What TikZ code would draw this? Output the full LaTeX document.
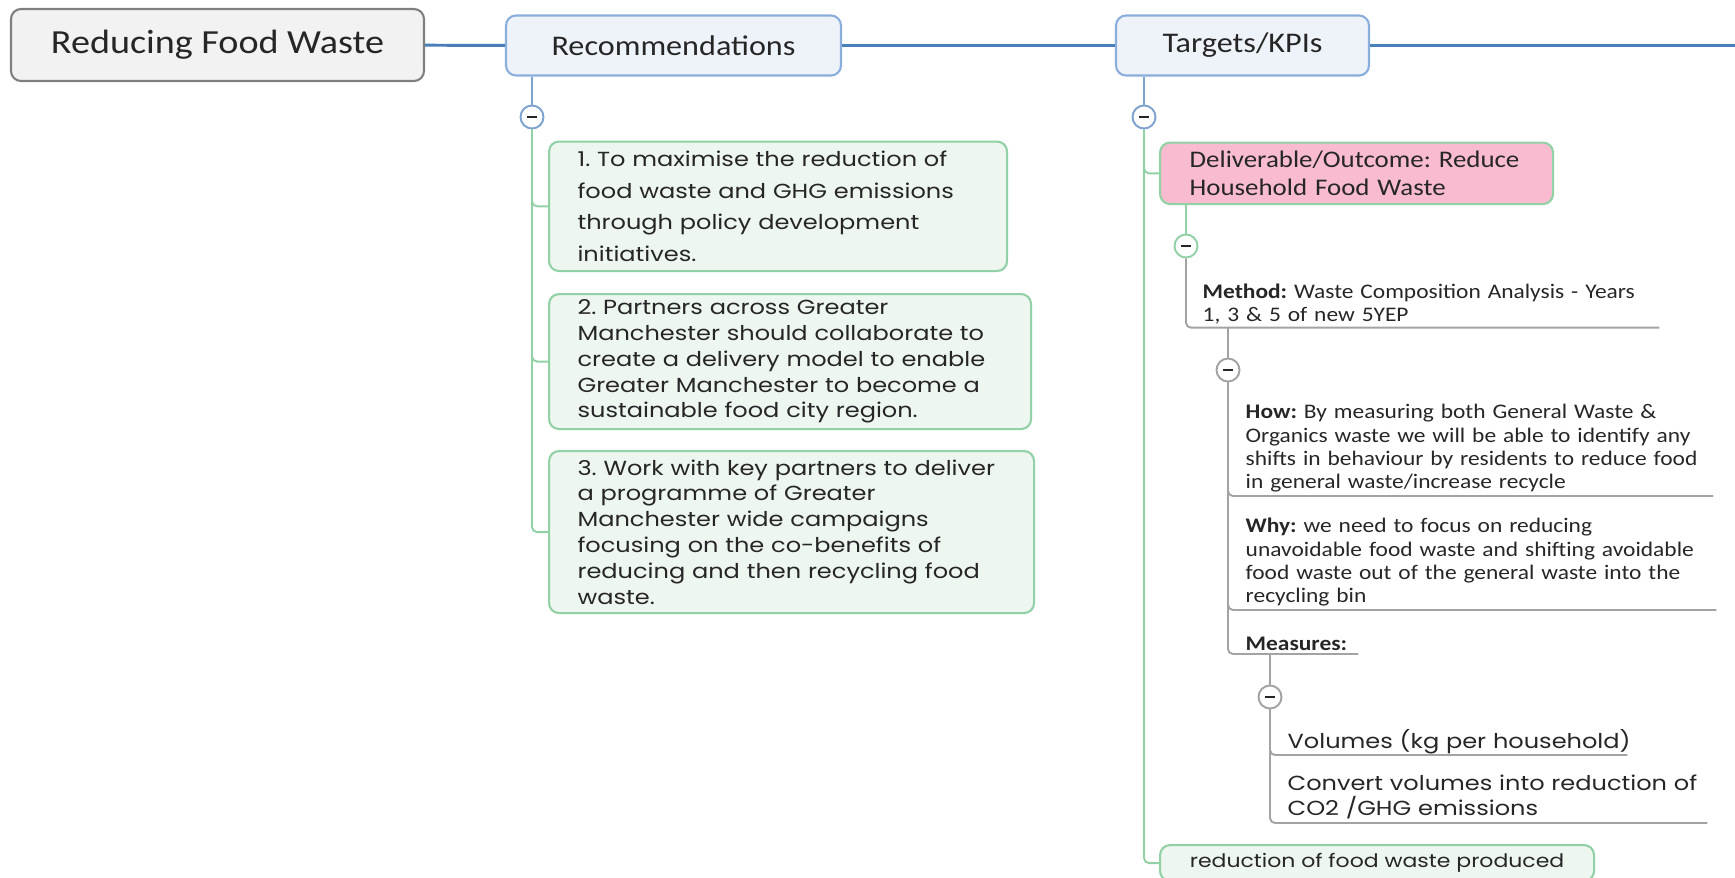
\documentclass[tikz,border=0pt]{standalone}
\usepackage{fontspec}
\setmainfont{Carlito}[FakeStretch=1.13]
\newfontfamily\gothic{Poppins}[FakeStretch=1.18]
\frenchspacing
\definecolor{mainblue}{HTML}{4A7EBB}
\definecolor{boxblue}{HTML}{8AAEDC}
\definecolor{bluefill}{HTML}{EEF3FA}
\definecolor{lineblue}{HTML}{7EA2D0}
\definecolor{boxgreen}{HTML}{92D1A6}
\definecolor{greenfill}{HTML}{EEF6F0}
\definecolor{pinkfill}{HTML}{F8BBD0}
\definecolor{linegray}{HTML}{A3A3A3}
\definecolor{rootgray}{HTML}{7F7F7F}
\definecolor{rootfill}{HTML}{F2F2F2}
\definecolor{ink}{HTML}{262626}
\tikzset{
	main line/.style={draw=mainblue, line width=0.85pt},
	blue line/.style={draw=lineblue, line width=0.55pt},
	green line/.style={draw=boxgreen, line width=0.55pt, rounded corners=0.05cm},
	gray line/.style={draw=linegray, line width=0.55pt, rounded corners=0.05cm},
	topic box/.style={draw=boxblue, fill=bluefill, line width=0.6pt, rounded corners=0.1cm, minimum height=0.6cm, inner sep=0pt, text=ink, font=\fontsize{8.1pt}{9.5pt}\selectfont},
	green box/.style={draw=boxgreen, fill=greenfill, line width=0.6pt, rounded corners=0.1cm, anchor=north west, inner xsep=0.285cm, inner ysep=0pt, align=left, text=ink, font=\gothic\fontsize{5.8pt}{7.35pt}\selectfont},
	note/.style={anchor=south west, inner xsep=0pt, inner ysep=0.03cm, align=left, text=ink, font=\fontsize{5.9pt}{6.63pt}\selectfont},
	toggle/.style={circle, draw=#1, fill=white, line width=0.55pt, minimum size=0.23cm, inner sep=0pt, path picture={\draw[ink, line width=0.55pt] ([xshift=-0.05cm]path picture bounding box.center) -- ([xshift=0.05cm]path picture bounding box.center);}}
}
\begin{document}
\begin{tikzpicture}
	\useasboundingbox (0 cm, 0 cm) rectangle (17.35 cm, -8.77 cm);
	\clip (0 cm, 0 cm) rectangle (17.35 cm, -8.77 cm);
	\node[draw=rootgray, fill=rootfill, line width=0.6pt, rounded corners=0.1cm, minimum width=4.13cm, minimum height=0.72cm, text=ink, font=\fontsize{9.6pt}{11pt}\selectfont] (Root) at (2.175 cm, -0.45 cm) {\raisebox{-0.02cm}{Reducing Food Waste}};
	\node[topic box, minimum width=3.35cm] (Rec) at (6.735 cm, -0.455 cm) {Recommendations};
	\node[topic box, minimum width=2.53cm] (Tgt) at (12.425 cm, -0.455 cm) {Targets/KPIs};
	\coordinate (Edge) at (17.35 cm, -0.455 cm);
	\draw[main line] (Root) -- (Rec);
	\draw[main line] (Rec) -- (Tgt);
	\draw[main line] (Tgt) -- (Edge);
	\node[green box, minimum width=4.58cm, minimum height=1.295cm, text width=4.01cm, font=\gothic\fontsize{5.8pt}{9.1pt}\selectfont] (Rec 1) at (5.48 cm, -1.405 cm) {1. To maximise the reduction of\\food waste and GHG emissions\\through policy development\\initiatives.};
	\node[green box, minimum width=4.82cm, minimum height=1.35cm, text width=4.25cm] (Rec 2) at (5.48 cm, -2.93 cm) {2. Partners across Greater\\Manchester should collaborate to\\create a delivery model to enable\\Greater Manchester to become a\\sustainable food city region.};
	\node[green box, minimum width=4.85cm, minimum height=1.62cm, text width=4.28cm] (Rec 3) at (5.48 cm, -4.50 cm) {3. Work with key partners to deliver\\a programme of Greater\\Manchester wide campaigns\\focusing on the co-benefits of\\reducing and then recycling food\\waste.};
	\node[toggle=lineblue] (Toggle 1) at (5.32 cm, -1.17 cm) {};
	\draw[blue line] (Toggle 1) -- (Toggle 1 |- Rec.south);
	\foreach \n in {Rec 1,Rec 2,Rec 3}{
		\draw[green line] (Toggle 1.south) |- (\n.west);
	}
	\node[green box, fill=pinkfill, minimum width=3.93cm, minimum height=0.615cm, inner xsep=0.296cm, text width=3.338cm, font=\fontsize{6.77pt}{7.7pt}\selectfont] (Del) at (11.59 cm, -1.415 cm) {Deliverable/Outcome: Reduce\\Household Food Waste};
	\node[green box, align=center, minimum width=4.34cm, minimum height=0.36cm, font=\gothic\fontsize{5.3pt}{6.5pt}\selectfont] (Red) at (11.59 cm, -8.44 cm) {reduction of food waste produced};
	\node[toggle=lineblue] (Toggle 2) at (11.44 cm, -1.17 cm) {};
	\draw[blue line] (Toggle 2) -- (Toggle 2 |- Tgt.south);
	\draw[green line] (Toggle 2.south) |- (Del.west);
	\draw[green line] (Toggle 2.south) |- (Red.west);
	\node[toggle=boxgreen] (Toggle 3) at (11.86 cm, -2.46 cm) {};
	\draw[green line] (Toggle 3) -- (Toggle 3 |- Del.south);
	\node[note, text width=4.56cm] (Method) at (12.02 cm, -3.277 cm) {\textbf{Method:} Waste Composition Analysis - Years\\1, 3 \& 5 of new 5YEP};
	\draw[gray line] (Toggle 3.south) |- (Method.south east);
	\node[toggle=linegray] (Toggle 4) at (12.28 cm, -3.70 cm) {};
	\draw[gray line] (Toggle 4) -- (Toggle 4 |- Method.south);
	\node[note, text width=4.67cm] (How) at (12.45 cm, -4.96 cm) {\textbf{How:} By measuring both General Waste \&\\Organics waste we will be able to identify any\\shifts in behaviour by residents to reduce food\\in general waste/increase recycle};
	\node[note, text width=4.70cm] (Why) at (12.45 cm, -6.10 cm) {\textbf{Why:} we need to focus on reducing\\unavoidable food waste and shifting avoidable\\food waste out of the general waste into the\\recycling bin};
	\node[note, text width=1.12cm] (Measures) at (12.45 cm, -6.54 cm) {\textbf{Measures:}};
	\foreach \n in {How,Why,Measures}{
		\draw[gray line] (Toggle 4.south) |- (\n.south east);
	}
	\node[toggle=linegray] (Toggle 5) at (12.70 cm, -6.97 cm) {};
	\draw[gray line] (Toggle 5) -- (Toggle 5 |- Measures.south);
	\node[note, inner ysep=0.005cm, text width=3.39cm, font=\gothic\fontsize{5.8pt}{7.35pt}\selectfont] (Volumes) at (12.87 cm, -7.55 cm) {\mbox{Volumes (kg per household)}};
	\node[note, text width=4.19cm, font=\gothic\fontsize{5.8pt}{7.35pt}\selectfont] (Convert) at (12.87 cm, -8.23 cm) {Convert volumes into reduction of\\CO2 /GHG emissions};
	\draw[gray line] (Toggle 5.south) |- (Volumes.south east);
	\draw[gray line] (Toggle 5.south) |- (Convert.south east);
\end{tikzpicture}
\end{document}
